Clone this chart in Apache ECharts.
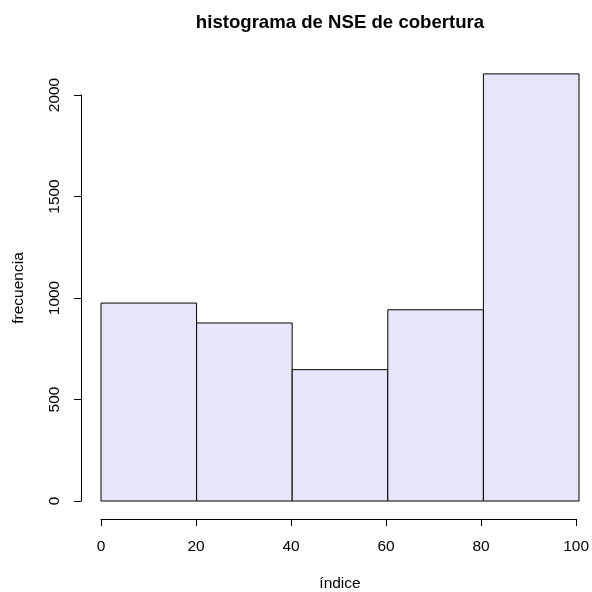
<!DOCTYPE html>
<html>
<head>
<meta charset="utf-8">
<script src="https://cdn.jsdelivr.net/npm/echarts@6/dist/echarts.min.js"></script>
<style>
  html, body { margin: 0; padding: 0; background: #fff; }
  #hist { width: 592px; height: 592px; }
</style>
</head>
<body>
<div id="hist"></div>
<script>
// datos del histograma
const binStarts = [0, 20, 40, 60, 80];
const binEnds = [20, 40, 60, 80, 100];
const counts = [975, 877, 647, 942, 2104];
const xTicks = [0, 20, 40, 60, 80, 100];
const yTicks = [0, 500, 1000, 1500, 2000];

const font = '"Liberation Sans", Arial, sans-serif';
const chart = echarts.init(document.getElementById('hist'));

const bars = binStarts.map((s, i) => [s, binEnds[i], counts[i]]);

const axisLineStyle = { show: true, lineStyle: { color: '#000', width: 1 } };
const tickStyle = { show: true, length: 7, lineStyle: { color: '#000', width: 1 } };

chart.setOption({
  animation: false,
  backgroundColor: '#fff',
  // grid 0: datos, grid 1: eje x desplazado, grid 2: eje y desplazado
  grid: [
    { left: 101, right: 13, top: 95, bottom: 91 },
    { left: 101, right: 13, top: 518, height: 1 },
    { left: 81, width: 1, top: 95, bottom: 91 }
  ],
  xAxis: [
    { gridIndex: 0, type: 'value', min: 0, max: 100, show: false },
    {
      gridIndex: 1, type: 'value', position: 'bottom',
      min: xTicks[0], max: xTicks[xTicks.length - 1], interval: 20,
      splitLine: { show: false },
      axisLine: axisLineStyle,
      axisTick: tickStyle,
      axisLabel: { color: '#000', fontSize: 15.5, fontFamily: font, margin: 20, showMinLabel: true, showMaxLabel: true }
    },
    { gridIndex: 2, type: 'value', show: false }
  ],
  yAxis: [
    { gridIndex: 0, type: 'value', min: 0, max: 2000, show: false },
    { gridIndex: 1, type: 'value', show: false },
    {
      gridIndex: 2, type: 'value', position: 'left',
      min: yTicks[0], max: yTicks[yTicks.length - 1], interval: 500,
      splitLine: { show: false },
      axisLine: axisLineStyle,
      axisTick: tickStyle,
      axisLabel: {
        color: '#000', fontSize: 15.5, fontFamily: font, rotate: 90, margin: 18,
        showMinLabel: true, showMaxLabel: true,
        formatter: v => String(v)
      }
    }
  ],
  graphic: [
    {
      type: 'text', x: 340, y: 23,
      style: { text: 'histograma de NSE de cobertura', font: 'bold 18.6px ' + font, fill: '#000', align: 'center', verticalAlign: 'middle' }
    },
    {
      type: 'text', x: 340, y: 584,
      style: { text: 'índice', font: '15.5px ' + font, fill: '#000', align: 'center', verticalAlign: 'middle' }
    },
    {
      type: 'text', x: 19, y: 288, rotation: Math.PI / 2,
      style: { text: 'frecuencia', font: '15.5px ' + font, fill: '#000', align: 'center', verticalAlign: 'middle' }
    }
  ],
  series: [{
    type: 'custom',
    xAxisIndex: 0,
    yAxisIndex: 0,
    clip: false,
    data: bars,
    encode: { x: [0, 1], y: 2 },
    renderItem: function (params, api) {
      const p0 = api.coord([api.value(0), 0]);
      const p1 = api.coord([api.value(1), api.value(2)]);
      return {
        type: 'rect',
        shape: { x: p0[0], y: p1[1], width: p1[0] - p0[0], height: p0[1] - p1[1] },
        style: { fill: '#E6E6FA', stroke: '#000', lineWidth: 1 }
      };
    }
  }]
});
</script>
</body>
</html>
